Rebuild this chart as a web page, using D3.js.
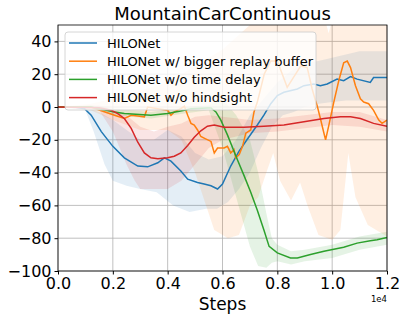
<!DOCTYPE html>
<html>
<head>
<meta charset="utf-8">
<script src="https://cdn.jsdelivr.net/npm/d3@7"></script>
<style>
  body { margin: 0; background: #fff; }
  svg { font-family: "DejaVu Sans", sans-serif; }
</style>
</head>
<body>
<div id="chart"></div>
<script>
// MountainCarContinuous learning curves

const seriesNames = [
  'HILONet',
  'HILONet w/ bigger replay buffer',
  'HILONet w/o time delay',
  'HILONet w/o hindsight',
];
const seriesColors = ['#1f77b4', '#ff7f0e', '#2ca02c', '#d62728'];

const xTicks = [0, 2000, 4000, 6000, 8000, 10000, 12000];
const yTicks = [-100, -80, -60, -40, -20, 0, 20, 40];

// [step, mean reward]
const hilonet = [
  [0, 0], [600, 0], [970, -1], [1210, -5], [1580, -15], [2000, -24], [2420, -31],
  [2910, -36], [3270, -36.5], [3640, -34], [3880, -31], [4120, -33], [4480, -39],
  [4730, -44], [5090, -46], [5330, -47], [5580, -48], [5820, -50], [6000, -47],
  [6300, -36], [6600, -27], [6910, -19.5], [7270, -11], [7510, -5], [7760, 2],
  [8000, 7], [8240, 9], [8730, 11], [8970, 13], [9330, 14], [9570, 13], [9820, 14],
  [10180, 17], [10420, 16], [10670, 18.5], [10910, 17], [11390, 15], [11510, 18], [12000, 18],
];
const hilonetLow = [
  [0, 0], [1000, -2], [1300, -15], [1700, -35], [2000, -45], [2500, -48], [3000, -50],
  [3600, -52], [4200, -60], [4800, -64], [5400, -62], [5800, -62], [6200, -58],
  [6600, -50], [7000, -40], [7400, -25], [7800, -12], [8200, -5], [8600, -3],
  [9000, 0], [9500, 2], [10000, 3], [10500, 4], [11000, 4], [12000, 4],
];
const hilonetHigh = [
  [0, 0], [1000, 0], [1500, -3], [2000, -8], [2500, -14], [3000, -20], [3500, -20],
  [4000, -14], [4500, -18], [5000, -28], [5500, -32], [6000, -30], [6500, -20],
  [7000, -5], [7500, 5], [8000, 15], [8500, 22], [9000, 27], [9500, 28], [10000, 30],
  [10500, 32], [11000, 34], [12000, 34],
];

const bigBuffer = [
  [0, 0], [1200, 0], [2060, -5], [2420, -7], [2670, -5], [2910, -5.5], [3150, -6],
  [3270, 0], [3640, -1], [4000, -2], [4120, -5], [4240, -3], [4480, -1], [4610, 0.5],
  [4730, -5], [4850, -10], [4970, -11], [5090, -14], [5210, -18], [5330, -19],
  [5580, -21], [5700, -28], [5820, -25], [6060, -25], [6180, -24], [6300, -28],
  [6420, -26], [6480, -31], [6610, -29], [6730, -24], [6850, -16], [7030, -14],
  [7150, -3], [7270, 3], [7520, 20], [7760, 28], [8000, 28], [8360, 12], [8850, 25],
  [9090, 24], [9270, 11], [9390, 4], [9450, 1], [9570, -7], [9700, -16], [9760, -20],
  [9880, -11], [10060, 3], [10240, 16], [10420, 27], [10550, 28], [10670, 24],
  [10850, 13], [11030, 5], [11150, 3], [11330, 2], [11510, -2], [11700, -8],
  [11820, -10], [12000, -8],
];
const bigBufferLow = [
  [0, 0], [1200, -2], [2000, -8], [3000, -14], [4000, -14], [4500, -20], [5000, -40],
  [5400, -60], [5700, -75], [6200, -80], [6600, -78], [7000, -60], [7300, -55],
  [7600, -40], [7850, -28], [8100, -45], [8500, -57], [8830, -46], [9100, -60],
  [9500, -78], [10000, -81], [10300, -75], [10590, -28], [10850, -55], [11300, -72],
  [12000, -79],
];
const bigBufferHigh = [
  [0, 0], [1200, 2], [2000, 5], [3000, 10], [4000, 15], [4500, 20], [5000, 25],
  [6000, 35], [7000, 50], [7200, 56], [9700, 56], [9870, 45], [10050, 56], [12000, 56],
];

const noDelay = [
  [0, 0], [1200, 0], [2060, -3], [2420, -4], [3390, -5], [4000, -4], [4610, -2],
  [4850, -1], [5450, -0.6], [5580, -0.6], [5760, -3], [5940, -8], [6180, -17],
  [6540, -32], [6790, -42], [7030, -52], [7270, -63], [7510, -75], [7700, -85],
  [8000, -89], [8480, -92], [8730, -92], [9210, -90], [9700, -88], [10420, -85.5],
  [10910, -83], [11390, -81.5], [11640, -81], [12000, -79.5],
];
const noDelayLow = [
  [0, 0], [1200, -1], [2000, -5], [3400, -7], [4600, -4], [5500, -2], [6000, -25],
  [6500, -55], [7000, -85], [7300, -97], [7600, -98], [7800, -95], [8000, -94],
  [8500, -96], [9000, -94], [10000, -92], [11000, -87], [12000, -84],
];
const noDelayHigh = [
  [0, 0], [1200, 1], [2000, -1], [3400, -3], [4600, 0], [5500, 1], [6000, 5],
  [6500, -5], [7000, -20], [7300, -40], [7600, -65], [7800, -80], [8000, -84],
  [8500, -88], [9000, -87], [10000, -84], [11000, -79], [12000, -76],
];

const noHindsight = [
  [0, 0], [1500, -0.5], [1940, -2], [2180, -4], [2420, -7], [2670, -13], [2910, -21.5],
  [3150, -28], [3390, -31], [3640, -31.5], [4000, -31], [4240, -30], [4480, -28],
  [4730, -23.5], [4970, -18.5], [5210, -14.5], [5450, -11.7], [5700, -11], [6060, -12.3],
  [6790, -12.3], [7510, -11.7], [8240, -11], [8970, -9], [9700, -7], [10300, -6],
  [10670, -6], [11030, -7], [11510, -10], [12000, -11.7],
];
const noHindsightLow = [
  [0, 0], [1500, -2], [2000, -15], [2500, -35], [2800, -45], [3000, -50], [3500, -50],
  [4000, -50], [4500, -45], [5000, -35], [5500, -25], [6000, -20], [7000, -16],
  [8000, -15], [9000, -13], [10000, -11], [11000, -12], [12000, -15],
];
const noHindsightHigh = [
  [0, 0], [1500, 1], [2000, -2], [2500, -5], [3000, -12], [3500, -15], [4000, -12],
  [4500, -10], [5000, -6], [5500, -5], [6000, -6], [7000, -8], [8000, -7], [9000, -5],
  [10000, -3], [11000, -3], [12000, -8],
];

const means = [hilonet, bigBuffer, noDelay, noHindsight];
const lows = [hilonetLow, bigBufferLow, noDelayLow, noHindsightLow];
const highs = [hilonetHigh, bigBufferHigh, noDelayHigh, noHindsightHigh];

const W = 407, H = 322;
const plot = { left: 58, right: 387, top: 25, bottom: 271 };

const svg = d3.select('#chart').append('svg').attr('width', W).attr('height', H);

const x = d3.scaleLinear().domain([0, 12000]).range([plot.left, plot.right]);
const y = d3.scaleLinear().domain([-100, 50]).range([plot.bottom, plot.top]);

svg.append('defs').append('clipPath').attr('id', 'clip')
  .append('rect')
  .attr('x', plot.left).attr('y', plot.top)
  .attr('width', plot.right - plot.left).attr('height', plot.bottom - plot.top);

// grid
const grid = svg.append('g');
grid.selectAll('.gx').data(xTicks).join('line')
  .attr('x1', d => x(d)).attr('x2', d => x(d))
  .attr('y1', plot.top).attr('y2', plot.bottom)
  .attr('stroke', '#b0b0b0').attr('stroke-width', 0.8);
grid.selectAll('.gy').data(yTicks).join('line')
  .attr('x1', plot.left).attr('x2', plot.right)
  .attr('y1', d => y(d)).attr('y2', d => y(d))
  .attr('stroke', '#b0b0b0').attr('stroke-width', 0.8);

const line = d3.line().x(d => x(d[0])).y(d => y(d[1]));

const marks = svg.append('g').attr('clip-path', 'url(#clip)');

// shaded bands
means.forEach((m, i) => {
  const poly = highs[i].concat(lows[i].slice().reverse());
  marks.append('path')
    .attr('d', line(poly) + 'Z')
    .attr('fill', seriesColors[i])
    .attr('fill-opacity', 0.12);
});

// mean lines
means.forEach((m, i) => {
  marks.append('path')
    .attr('d', line(m))
    .attr('fill', 'none')
    .attr('stroke', seriesColors[i])
    .attr('stroke-width', 1.5);
});

// axes
svg.append('g')
  .attr('transform', `translate(0,${plot.bottom})`)
  .call(d3.axisBottom(x).tickValues(xTicks).tickSize(3.5).tickPadding(3)
    .tickFormat(d => (d / 10000).toFixed(1)))
  .call(g => g.select('.domain').remove())
  .call(g => g.selectAll('text').attr('font-size', 16).attr('fill', '#000')
    .attr('font-family', 'DejaVu Sans'));

svg.append('g')
  .attr('transform', `translate(${plot.left},0)`)
  .call(d3.axisLeft(y).tickValues(yTicks).tickSize(3.5).tickPadding(3)
    .tickFormat(d => d < 0 ? '\u2212' + Math.abs(d) : d))
  .call(g => g.select('.domain').remove())
  .call(g => g.selectAll('text').attr('font-size', 16).attr('fill', '#000')
    .attr('font-family', 'DejaVu Sans'));

svg.append('rect')
  .attr('x', plot.left).attr('y', plot.top)
  .attr('width', plot.right - plot.left).attr('height', plot.bottom - plot.top)
  .attr('fill', 'none').attr('stroke', '#000').attr('stroke-width', 0.8);

// labels
svg.append('text')
  .attr('x', (plot.left + plot.right) / 2).attr('y', 20)
  .attr('text-anchor', 'middle').attr('font-size', 18)
  .text('MountainCarContinuous');

svg.append('text')
  .attr('x', (plot.left + plot.right) / 2).attr('y', 310)
  .attr('text-anchor', 'middle').attr('font-size', 17)
  .text('Steps');

svg.append('text')
  .attr('x', plot.right).attr('y', 302)
  .attr('text-anchor', 'end').attr('font-size', 8.5)
  .text('1e4');

// legend
const legend = svg.append('g');
legend.append('rect')
  .attr('x', 65).attr('y', 32).attr('width', 251).attr('height', 78)
  .attr('rx', 3)
  .attr('fill', '#fff').attr('fill-opacity', 0.8)
  .attr('stroke', '#ccc').attr('stroke-width', 0.8);

seriesNames.forEach((name, i) => {
  const yy = 43 + i * 18.2;
  legend.append('line')
    .attr('x1', 69).attr('x2', 97).attr('y1', yy).attr('y2', yy)
    .attr('stroke', seriesColors[i]).attr('stroke-width', 1.5);
  legend.append('text')
    .attr('x', 107).attr('y', yy + 4.5)
    .attr('font-size', 13)
    .text(name);
});
</script>
</body>
</html>
